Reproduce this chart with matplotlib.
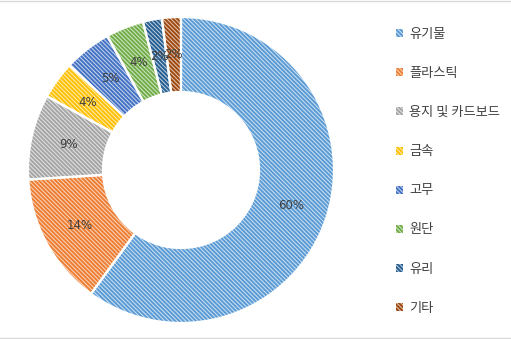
import matplotlib.pyplot as plt
import matplotlib.colors as mcolors
from matplotlib.patches import Patch
from matplotlib.lines import Line2D
import numpy as np

plt.rcParams['font.family'] = ['Noto Sans CJK KR', 'DejaVu Sans']
plt.rcParams['hatch.linewidth'] = 1.4

# waste composition (%)
categories = ['유기물', '플라스틱', '용지 및 카드보드', '금속', '고무', '원단', '유리', '기타']
shares = [60, 14, 9, 4, 5, 4, 2, 2]
colors = ['#5B9BD5', '#ED7D31', '#A5A5A5', '#FFC000', '#4472C4', '#70AD47', '#255E91', '#9E480E']

HATCH = '\\' * 8


def tint(c, amount=0.7):
    rgb = np.array(mcolors.to_rgb(c))
    return tuple(rgb + (1 - rgb) * amount)


fig = plt.figure(figsize=(5.11, 3.39), dpi=100)
W, H = 511, 339
cx, cy, R = 181, 170, 153
ax = fig.add_axes([(cx - R) / W, (H - cy - R) / H, 2 * R / W, 2 * R / H])

ring = 0.49
# hatched ring
wedges, _ = ax.pie(shares, radius=1, startangle=90, counterclock=False,
                   colors=[tint(c) for c in colors],
                   wedgeprops=dict(width=ring, linewidth=0))
for w, c in zip(wedges, colors):
    w.set_edgecolor(c)
    w.set_hatch(HATCH)
    w.set_linewidth(0)

# white separators
ax.pie(shares, radius=1, startangle=90, counterclock=False,
       colors=['none'] * len(shares),
       wedgeprops=dict(width=ring, linewidth=1.6, edgecolor='white'))

ax.set_xlim(-1, 1)
ax.set_ylim(-1, 1)
ax.set_aspect('equal')
ax.axis('off')

# percentage labels in the middle of the ring
total = sum(shares)
start = 90.0
for v in shares:
    mid = np.deg2rad(start - 360 * v / total / 2)
    r = 1 - ring / 2
    ax.text(r * np.cos(mid), r * np.sin(mid), f'{v}%', ha='center', va='center',
            fontsize=8.5, color='#404040', family=['DejaVu Sans'])
    start -= 360 * v / total

handles = [Patch(facecolor=tint(c), edgecolor=c, hatch=HATCH, linewidth=0)
           for c in colors]
fig.legend(handles, categories, loc='upper left', bbox_to_anchor=(384 / W, 1 - 16 / H),
           frameon=False, fontsize=9.5, handlelength=0.55, handleheight=0.55,
           handletextpad=0.45, labelspacing=1.98, labelcolor='#404040')

# chart area frame lines
fig.add_artist(Line2D([0, 1], [1 - 0.5 / H, 1 - 0.5 / H], color='#D9D9D9', lw=1.0))
fig.add_artist(Line2D([0, 1], [1.5 / H, 1.5 / H], color='#D9D9D9', lw=1.0))

fig.savefig('out.png', dpi=100)
